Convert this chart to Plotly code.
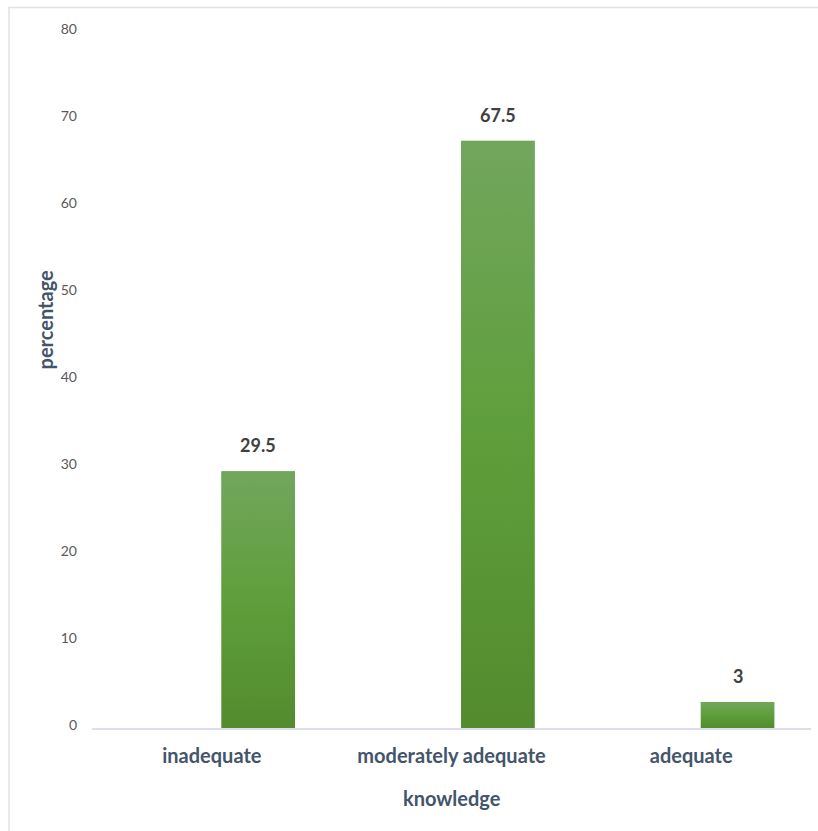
import base64
import plotly.graph_objects as go

# Knowledge level distribution
categories = ["inadequate", "moderately adequate", "adequate"]
percentages = [29.5, 67.5, 3]
y_ticks = [0, 10, 20, 30, 40, 50, 60, 70, 80]

BAR_OFFSET = 0.04
BAR_WIDTH = 0.307
FONT = "Lato, 'Open Sans', sans-serif"
TITLE_COLOR = "#44546a"

# vertical green gradient used to shade each bar
grad_svg = (
    '<svg xmlns="http://www.w3.org/2000/svg" width="10" height="100" '
    'viewBox="0 0 10 100" preserveAspectRatio="none">'
    '<defs><linearGradient id="g" x1="0" y1="0" x2="0" y2="1">'
    '<stop offset="0" stop-color="#72a65d"/>'
    '<stop offset="0.5" stop-color="#5f9e3b"/>'
    '<stop offset="1" stop-color="#538b2e"/>'
    '</linearGradient></defs>'
    '<rect x="0" y="0" width="10" height="100" fill="url(#g)"/></svg>'
)
grad_uri = "data:image/svg+xml;base64," + base64.b64encode(grad_svg.encode()).decode()

fig = go.Figure()
fig.add_trace(go.Bar(
    x=categories,
    y=percentages,
    offset=BAR_OFFSET,
    width=BAR_WIDTH,
    marker=dict(color="#5f9e3b", line=dict(width=0)),
    hoverinfo="x+y",
    showlegend=False,
))

images = []
annotations = []
for i, v in enumerate(percentages):
    images.append(dict(
        source=grad_uri, xref="x", yref="y",
        x=i + BAR_OFFSET, y=v,
        sizex=BAR_WIDTH, sizey=v,
        xanchor="left", yanchor="top",
        sizing="stretch", layer="above",
    ))
    annotations.append(dict(
        x=i + BAR_OFFSET + BAR_WIDTH / 2, y=v, xref="x", yref="y",
        text=f"<b>{v:g}</b>", showarrow=False, yshift=26,
        font=dict(family=FONT, size=18, color="#404040"),
    ))

# axis titles
annotations.append(dict(
    x=0.5, y=-0.101, xref="paper", yref="paper",
    text="<b>knowledge</b>", showarrow=False,
    xanchor="center", yanchor="middle",
    font=dict(family=FONT, size=20, color=TITLE_COLOR),
))
annotations.append(dict(
    x=-0.0654, y=0.587, xref="paper", yref="paper",
    text="<b>percentage</b>", showarrow=False, textangle=-90,
    xanchor="center", yanchor="middle",
    font=dict(family=FONT, size=20, color=TITLE_COLOR),
))

fig.update_layout(
    width=818, height=831,
    margin=dict(l=92, r=7, t=31.5, b=103.3),
    paper_bgcolor="white", plot_bgcolor="white",
    images=images,
    annotations=annotations,
    shapes=[dict(
        type="rect", xref="paper", yref="paper",
        x0=-0.1155, x1=1.2, y0=-0.3, y1=1.0352,
        line=dict(color="#dfe3e8", width=1.5), fillcolor="rgba(0,0,0,0)",
        layer="below",
    )],
    xaxis=dict(
        type="category",
        range=[-0.5, 2.5],
        showline=True, linecolor="#dbe0e6", linewidth=1.5,
        showgrid=False, zeroline=False, ticks="",
        ticklabelstandoff=9,
        tickfont=dict(family=FONT, size=20, color=TITLE_COLOR, weight="bold"),
    ),
    yaxis=dict(
        range=[0, 80],
        tickvals=y_ticks,
        ticktext=[str(t) for t in y_ticks],
        showline=False, showgrid=False, zeroline=False, ticks="",
        ticklabelstandoff=14,
        ticklabelshift=-3,
        tickfont=dict(family=FONT, size=14, color="#595959"),
    ),
    font=dict(family=FONT),
)

fig.write_html("out.html")
